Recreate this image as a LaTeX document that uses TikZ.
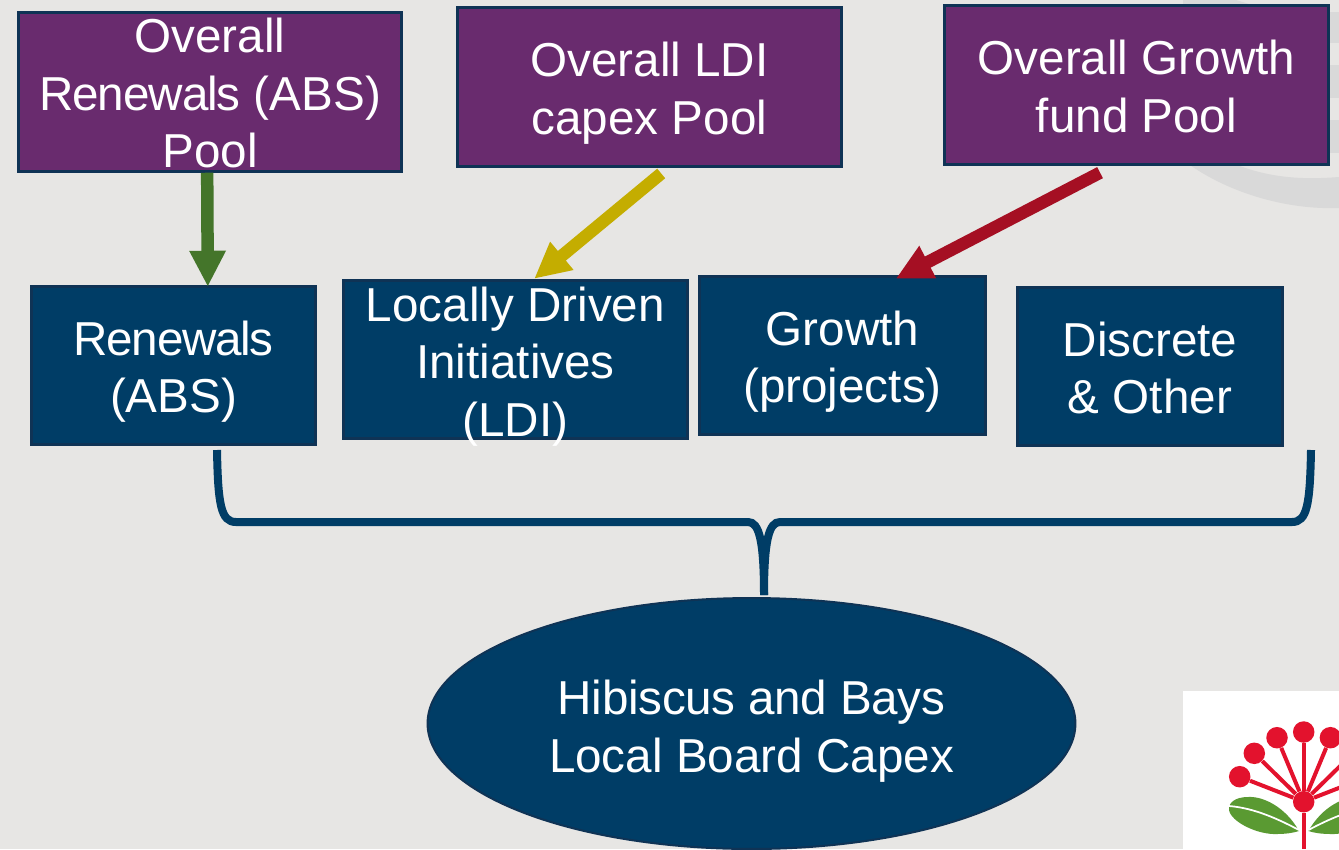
\documentclass[tikz,border=0pt]{standalone}
\usepackage{fontspec}
\setmainfont{Liberation Sans}
\usetikzlibrary{arrows.meta,shapes.geometric}
\definecolor{pagegrey}{HTML}{E7E6E4}
\definecolor{swoosh}{HTML}{D9D9D9}
\definecolor{navy}{HTML}{003D66}
\definecolor{navyline}{HTML}{0F3355}
\definecolor{poolpurple}{HTML}{692B6E}
\definecolor{renewgreen}{HTML}{44752A}
\definecolor{ldiyellow}{HTML}{C4AD00}
\definecolor{growthred}{HTML}{A50F23}
\definecolor{logored}{HTML}{E3122D}
\definecolor{logoleaf}{HTML}{5A9A32}
\newcommand{\textdrop}[1]{\rule{0pt}{\dimexpr19.8pt+#1\dimexpr1.138pt\relax\relax}}
\newcommand{\tightword}[2]{{\addfontfeature{LetterSpace=#1}#2}}

\begin{document}
\begin{tikzpicture}[x=0.02cm, y=-0.02cm,
	boxtext/.style={text=white, align=center, font=\fontsize{27.1}{32.7}\selectfont},
	box/.style={boxtext, rectangle, draw=navyline, line width=0.06cm, fill=navy, inner xsep=0pt, inner ysep=-0.6cm, minimum height=3.17cm},
	pool/.style={box, fill=poolpurple, minimum width=7.67cm},
	poolarrow/.style={line width=0.25cm, -{Triangle[length=0.72cm,width=0.68cm]}},
	bracket/.style={draw=navy, line width=0.16cm},
	berry/.style={circle, fill=logored, inner sep=0pt, minimum size=0.43cm},
	spoke/.style={draw=logored, line width=0.08cm}]
	\useasboundingbox (0,0) rectangle (1339,849);
	\clip (0,0) rectangle (1339,849);
	\fill[pagegrey] (0,0) rectangle (1339,849);
	
	% grey swoosh behind the right pool
	\fill[swoosh] (1183,0) -- (1236,0) -- (1262,8) -- (1183,8) -- cycle;
	\fill[swoosh] (1183,160) .. controls (1225,192) and (1285,210) .. (1339,208) -- (1339,177) .. controls (1300,180) and (1265,178) .. (1225,160) -- cycle;
	\fill[swoosh] (1325,12) rectangle (1339,43);
	\fill[swoosh] (1325,65) rectangle (1339,98);
	\fill[swoosh] (1325,120) rectangle (1339,153);
	
	\node[pool] (renewalspool) at (210,92){\textdrop{1}Overall\\\tightword{-2.2}{Renewals} (ABS)\\Pool};
	\node[pool] (ldipool) at (649.5,87){\textdrop{6}Overall LDI\\capex Pool};
	\node[pool] (growthpool) at (1136.5,85){\textdrop{1.5}Overall Growth\\fund Pool};
	
	\node[box, minimum width=5.68cm] (renewals) at (173.5,365.5){\textdrop{6}\tightword{-2.8}{Renewals}\\(ABS)};
	\node[box, minimum width=6.88cm] (ldi) at (515.5,359.5){\textdrop{7}Locally Driven\\Initiatives\\(LDI)};
	\node[box, minimum width=5.72cm] (growth) at (842.5,355.5){\textdrop{6}Growth\\(projects)};
	\node[box, minimum width=5.3cm] (discrete) at (1150,366.5){\textdrop{1.5}Discrete\\\& Other};
	
	\draw[poolarrow, draw=renewgreen, shorten >=-0.04cm] (renewalspool.-92.4) -- (renewals.67.6);
	\draw[poolarrow, draw=ldiyellow, shorten <=0.18cm] (ldipool.-77.7) -- (ldi.77.7);
	\draw[poolarrow, draw=growthred, shorten <=0.3cm, shorten >=-0.17cm] (growthpool.-106.7) -- (growth.53.7);
	
	% brace over the board
	\coordinate (braceleft) at (217,450);
	\coordinate (braceright) at (1311,450);
	\coordinate (bracetip) at (764,595);
	\draw[bracket] (braceleft) .. controls (218,505) and (221,522) .. (236,522) -- (748,522) .. controls (759,522) and (764,540) .. (bracetip);
	\draw[bracket] (braceright) .. controls (1310,505) and (1307,522) .. (1292,522) -- (780,522) .. controls (769,522) and (764,540) .. (bracetip);
	
	\node[boxtext, ellipse, draw=navyline, line width=0.04cm, fill=navy, inner sep=0pt, minimum width=12.96cm, minimum height=5.02cm] (board) at (751.5,723.5){\textdrop{7.5}\tightword{-0.65}{Hibiscus and Bays}\\Local Board Capex};
	
	% logo
	\fill[white] (1183,691) rectangle (1339,849);
	\fill[logoleaf] (1299,831) .. controls (1285,806) and (1262,796) .. (1248,797) .. controls (1235,797) and (1228,803) .. (1229,810) .. controls (1231,822) and (1258,835) .. (1277,834) .. controls (1285,834) and (1293,833) .. (1299,831) -- cycle;
	\fill[logoleaf] (1308.4,831) .. controls (1322.4,806) and (1345.4,796) .. (1359.4,797) .. controls (1372.4,797) and (1379.4,803) .. (1378.4,810) .. controls (1376.4,822) and (1349.4,835) .. (1330.4,834) .. controls (1322.4,834) and (1314.4,833) .. (1308.4,831) -- cycle;
	\draw[white, line width=0.035cm] (1229,806) .. controls (1255,808) and (1280,820) .. (1299,830);
	\draw[white, line width=0.035cm] (1378.4,806) .. controls (1352.4,808) and (1327.4,820) .. (1308.4,830);
	
	\node[berry] (hub) at (1303.7,801.7){};
	\node[berry] (berrya) at (1239.7,776.7){};
	\node[berry] (berryb) at (1254.3,753.3){};
	\node[berry] (berryc) at (1277,737.7){};
	\node[berry] (berryd) at (1303.7,732){};
	\node[berry] (berrye) at (1330.4,737.7){};
	\node[berry] (berryf) at (1353.1,753.3){};
	\node[berry] (berryg) at (1367.7,776.7){};
	\coordinate (stemfoot) at (1303.7,849);
	
	\path[spoke] (hub) edge (berrya);
	\path[spoke] (hub) edge (berryb);
	\path[spoke] (hub) edge (berryc);
	\path[spoke] (hub) edge (berryd);
	\path[spoke] (hub) edge (berrye);
	\path[spoke] (hub) edge (berryf);
	\path[spoke] (hub) edge (berryg);
	\path[spoke] (hub) edge (stemfoot);
\end{tikzpicture}
\end{document}
